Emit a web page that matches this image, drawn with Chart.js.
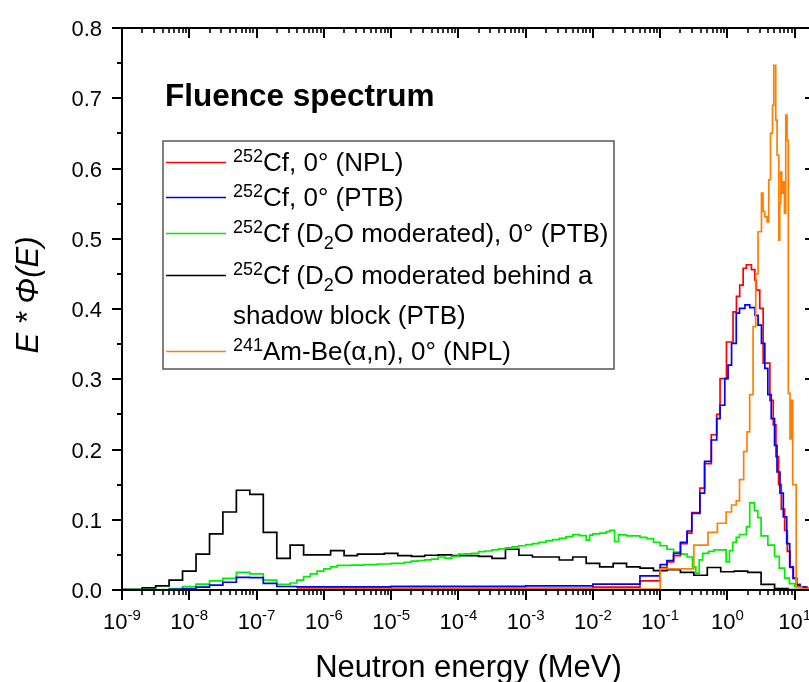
<!DOCTYPE html>
<html>
<head>
<meta charset="utf-8">
<script src="https://cdn.jsdelivr.net/npm/chart.js@4.4.0/dist/chart.umd.min.js"></script>
<style>
  html, body { margin: 0; padding: 0; background: #ffffff; overflow: hidden; }
  #wrap { width: 830px; height: 682px; }
</style>
</head>
<body>
<div id="wrap"><canvas id="spectrum" width="830" height="682"></canvas></div>
<script>
const FONT = '"Liberation Sans", Arial, Helvetica, sans-serif';

// Each histogram: lower bin edges in MeV (last entry closes the final bin) and E*Phi(E) per bin.

// 252Cf, 0 deg (NPL)
const cfNplEnergy = [3.98e-7, 1.0e-2, 5.0e-2, 0.100, 0.126, 0.158, 0.200, 0.251, 0.295, 0.389,
                     0.457, 0.575, 0.692, 0.776, 0.966, 1.21, 1.36, 1.52, 1.71, 1.91,
                     2.27, 2.55, 2.69, 3.02, 3.39, 4.27, 4.79, 5.25, 5.75, 6.31,
                     7.08, 7.76, 8.51, 9.55, 10.7, 12.0, 15.1, 20];
const cfNplValue  = [0.0025, 0.004, 0.013, 0.032, 0.040, 0.049, 0.066, 0.081, 0.110, 0.145,
                     0.180, 0.221, 0.250, 0.301, 0.353, 0.396, 0.418, 0.434, 0.458, 0.463,
                     0.456, 0.441, 0.427, 0.401, 0.323, 0.270, 0.235, 0.190, 0.150, 0.115,
                     0.085, 0.055, 0.032, 0.017, 0.008, 0.004, 0.002, 0];

// 252Cf, 0 deg (PTB)
const cfPtbEnergy = [1e-9, 5.01e-9, 7.94e-9, 1.26e-8, 2.0e-8, 3.16e-8, 5.01e-8, 7.94e-8, 1.26e-7, 2.0e-7,
                     3.98e-7, 1e-5, 1e-3, 1e-2, 5e-2, 0.100, 0.126, 0.158, 0.200, 0.251,
                     0.295, 0.389, 0.457, 0.575, 0.692, 0.776, 0.912, 1.02, 1.15, 1.35,
                     1.51, 1.82, 2.14, 2.57, 2.85, 3.20, 3.59, 3.98, 4.47, 5.01,
                     5.45, 6.03, 6.76, 7.59, 8.41, 9.44, 10.6, 11.9, 15.0, 20];
const cfPtbValue  = [0.0003, 0.001, 0.002, 0.004, 0.007, 0.011, 0.018, 0.0175, 0.0095, 0.005,
                     0.0045, 0.0052, 0.006, 0.0085, 0.020, 0.036, 0.042, 0.052, 0.068, 0.084,
                     0.109, 0.138, 0.183, 0.2135, 0.244, 0.263, 0.301, 0.320, 0.351, 0.394,
                     0.401, 0.406, 0.402, 0.391, 0.377, 0.351, 0.3155, 0.278, 0.244, 0.206,
                     0.168, 0.138, 0.104, 0.066, 0.033, 0.0166, 0.007, 0.004, 0.002, 0];

// 252Cf (D2O moderated), 0 deg (PTB)
const cfD2oEnergy = [1e-9, 5.01e-9, 7.94e-9, 1.26e-8, 2.0e-8, 3.16e-8, 5.01e-8, 7.94e-8, 1.26e-7, 2.0e-7,
                     3.16e-7, 3.98e-7, 5.01e-7, 6.31e-7, 7.94e-7, 1.0e-6, 1.26e-6, 1.58e-6, 2.51e-6, 3.98e-6,
                     6.31e-6, 1.0e-5, 1.58e-5, 2.0e-5, 2.51e-5, 3.16e-5, 3.98e-5, 5.01e-5, 6.31e-5, 7.94e-5,
                     1.0e-4, 1.26e-4, 1.58e-4, 2.0e-4, 2.51e-4, 3.16e-4, 3.98e-4, 5.01e-4, 6.31e-4, 7.94e-4,
                     1.0e-3, 1.26e-3, 1.58e-3, 2.0e-3, 2.51e-3, 3.16e-3, 3.98e-3, 5.01e-3, 6.31e-3, 7.94e-3,
                     8.91e-3, 1.0e-2, 1.26e-2, 1.58e-2, 1.78e-2, 2.1e-2, 2.4e-2, 3.16e-2, 5.01e-2, 6.31e-2,
                     7.94e-2, 0.100, 0.126, 0.158, 0.200, 0.251, 0.302, 0.339, 0.380, 0.427,
                     0.525, 0.631, 0.955, 1.07, 1.20, 1.35, 1.51, 1.91, 2.14, 2.51,
                     2.82, 3.16, 3.98, 5.01, 5.89, 7.08, 8.32, 10.0, 12.6, 15.8,
                     20];
const cfD2oValue  = [0.0005, 0.002, 0.005, 0.0085, 0.013, 0.0166, 0.025, 0.023, 0.014, 0.008,
                     0.010, 0.014, 0.019, 0.023, 0.027, 0.030, 0.033, 0.035, 0.0355, 0.036,
                     0.037, 0.038, 0.0395, 0.041, 0.042, 0.043, 0.044, 0.047, 0.0455, 0.048,
                     0.051, 0.0515, 0.052, 0.0546, 0.0555, 0.057, 0.0585, 0.060, 0.0615, 0.063,
                     0.0645, 0.066, 0.068, 0.070, 0.0718, 0.0735, 0.076, 0.0788, 0.0775, 0.071,
                     0.078, 0.080, 0.081, 0.083, 0.085, 0.069, 0.0785, 0.077, 0.075, 0.073,
                     0.068, 0.063, 0.058, 0.054, 0.051, 0.047, 0.033, 0.024, 0.043, 0.052,
                     0.055, 0.057, 0.040, 0.056, 0.068, 0.075, 0.079, 0.090, 0.124, 0.113,
                     0.103, 0.077, 0.064, 0.048, 0.031, 0.017, 0.009, 0.005, 0.002, 0.001,
                     0];

// 252Cf (D2O moderated) behind a shadow block (PTB)
const cfShadowEnergy = [1e-9, 2.00e-9, 3.16e-9, 5.01e-9, 7.94e-9, 1.26e-8, 2.00e-8, 3.16e-8, 5.01e-8, 7.94e-8,
                        1.26e-7, 2.00e-7, 3.16e-7, 5.01e-7, 7.94e-7, 1.26e-6, 2.00e-6, 3.16e-6, 5.01e-6, 7.94e-6,
                        1.26e-5, 2.00e-5, 3.16e-5, 5.01e-5, 7.94e-5, 1.26e-4, 2.00e-4, 3.16e-4, 5.01e-4, 7.94e-4,
                        1.26e-3, 2.00e-3, 3.16e-3, 5.01e-3, 7.94e-3, 1.26e-2, 2.00e-2, 3.16e-2, 5.01e-2, 7.94e-2,
                        0.126, 0.200, 0.316, 0.501, 0.794, 1.26, 2.00, 3.16, 5.01, 7.94,
                        12.6];
const cfShadowValue  = [0.001, 0.003, 0.006, 0.014, 0.027, 0.051, 0.080, 0.111, 0.142, 0.136,
                        0.082, 0.045, 0.064, 0.050, 0.050, 0.056, 0.049, 0.051, 0.051, 0.052,
                        0.049, 0.048, 0.0495, 0.050, 0.049, 0.049, 0.048, 0.045, 0.058, 0.0495,
                        0.047, 0.047, 0.0427, 0.047, 0.038, 0.033, 0.038, 0.033, 0.031, 0.0275,
                        0.029, 0.025, 0.021, 0.032, 0.026, 0.027, 0.025, 0.008, 0.002, 0.0005,
                        0];

// 241Am-Be(alpha,n), 0 deg (NPL)
const amBeEnergy = [3.98e-7, 0.100, 0.316, 0.513, 0.708, 0.955, 1.15, 1.35, 1.51, 1.74,
                    1.95, 2.14, 2.40, 2.63, 2.85, 3.20, 3.38, 3.58, 3.88, 4.11,
                    4.36, 4.67, 4.88, 5.22, 5.46, 5.79, 5.98, 6.19, 6.41, 6.70,
                    7.03, 7.35, 7.69, 8.02, 8.51, 8.91, 9.33, 10.5, 12.6, 20];
const amBeValue  = [0.0012, 0.030, 0.064, 0.082, 0.095, 0.111, 0.121, 0.127, 0.157, 0.197,
                    0.225, 0.278, 0.375, 0.450, 0.510, 0.565, 0.539, 0.531, 0.524, 0.584,
                    0.650, 0.690, 0.747, 0.669, 0.619, 0.498, 0.550, 0.595, 0.565, 0.581,
                    0.536, 0.676, 0.640, 0.280, 0.215, 0.270, 0.150, 0.004, 0.002, 0];

// Axis ticks
const yTickValues = [0, 0.1, 0.2, 0.3, 0.4, 0.5, 0.6, 0.7, 0.8];
const yTickLabels = ['0.0', '0.1', '0.2', '0.3', '0.4', '0.5', '0.6', '0.7', '0.8'];
const xTickExponents = [-9, -8, -7, -6, -5, -4, -3, -2, -1, 0, 1];

// Legend text: [text, 'sup' | 'sub' | undefined]
const legendCfNpl    = [[['252', 'sup'], ['Cf, 0° (NPL)']]];
const legendCfPtb    = [[['252', 'sup'], ['Cf, 0° (PTB)']]];
const legendCfD2o    = [[['252', 'sup'], ['Cf (D'], ['2', 'sub'], ['O moderated), 0° (PTB)']]];
const legendCfShadow = [[['252', 'sup'], ['Cf (D'], ['2', 'sub'], ['O moderated behind a']],
                        [['shadow block (PTB)']]];
const legendAmBe     = [[['241', 'sup'], ['Am-Be(α,n), 0° (NPL)']]];

const COLORS = { cfNpl: '#ff0000', cfPtb: '#0000ff', cfD2o: '#00ee00', cfShadow: '#000000', amBe: '#ff8000' };

function toPoints(energy, value) {
  return energy.map((e, i) => ({ x: e, y: value[i] }));
}

function drawRich(ctx, x, y, parts, size) {
  let cx = x;
  for (const [text, kind] of parts) {
    const s = kind ? Math.round(size * 0.68) : size;
    const dy = kind === 'sup' ? -size * 0.36 : (kind === 'sub' ? size * 0.28 : 0);
    ctx.font = s + 'px ' + FONT;
    ctx.fillText(text, cx, y + dy);
    cx += ctx.measureText(text).width;
  }
}

const frame = {
  id: 'frame',
  afterDatasetsDraw(chart) {
    const ctx = chart.ctx;
    const { left, right, top, bottom } = chart.chartArea;
    const xs = chart.scales.x, ys = chart.scales.y;
    ctx.save();
    ctx.fillStyle = '#000';
    ctx.strokeStyle = '#000';

    // box
    ctx.lineWidth = 2;
    ctx.strokeRect(left, top, right - left, bottom - top);

    // y ticks: outward on the left, inward on the right
    ctx.lineWidth = 2;
    const line = (x1, y1, x2, y2) => { ctx.beginPath(); ctx.moveTo(x1, y1); ctx.lineTo(x2, y2); ctx.stroke(); };
    for (let i = 0; i < yTickValues.length; i++) {
      const py = Math.round(ys.getPixelForValue(yTickValues[i]));
      line(left - 10, py, left, py);
      line(right, py, right - 10, py);
      if (i < yTickValues.length - 1) {
        const pm = Math.round(ys.getPixelForValue((yTickValues[i] + yTickValues[i + 1]) / 2));
        line(left - 5, pm, left, pm);
        line(right, pm, right - 5, pm);
      }
    }
    ctx.font = '22px ' + FONT;
    ctx.textAlign = 'right';
    ctx.textBaseline = 'alphabetic';
    yTickLabels.forEach((lab, i) => {
      const py = ys.getPixelForValue(yTickValues[i]);
      ctx.fillText(lab, left - 20, py + 8);
    });

    // x ticks: outward at the bottom, inward at the top
    for (const n of xTickExponents) {
      const px = Math.round(xs.getPixelForValue(Math.pow(10, n)));
      line(px, bottom, px, bottom + 10);
      line(px, top, px, top + 10);
      for (let m = 2; m <= 9; m++) {
        const v = m * Math.pow(10, n);
        if (v > xs.max) break;
        const pm = Math.round(xs.getPixelForValue(v));
        ctx.lineWidth = 1.6;
        line(pm, bottom, pm, bottom + 5);
        line(pm, top, pm, top + 5);
        ctx.lineWidth = 2;
      }
    }
    ctx.textAlign = 'left';
    for (const n of xTickExponents) {
      const px = xs.getPixelForValue(Math.pow(10, n));
      const base = '10', exp = String(n);
      ctx.font = '22px ' + FONT;
      const wb = ctx.measureText(base).width;
      ctx.font = '15px ' + FONT;
      const we = ctx.measureText(exp).width;
      const x0 = px - (wb + we) / 2;
      ctx.font = '22px ' + FONT;
      ctx.fillText(base, x0, 629);
      ctx.font = '15px ' + FONT;
      ctx.fillText(exp, x0 + wb, 620);
    }

    // axis titles
    ctx.textAlign = 'center';
    ctx.font = '31px ' + FONT;
    ctx.fillText('Neutron energy (MeV)', (left + right) / 2, 677);
    ctx.save();
    ctx.translate(38, 295);
    ctx.rotate(-Math.PI / 2);
    ctx.font = 'italic 31px ' + FONT;
    ctx.fillText('E * Φ(E)', 0, 0);
    ctx.restore();

    // panel title
    ctx.textAlign = 'left';
    ctx.font = 'bold 31.5px ' + FONT;
    ctx.fillText('Fluence spectrum', 165, 106);

    // legend
    ctx.lineWidth = 1.5;
    ctx.strokeStyle = '#555';
    ctx.strokeRect(163, 141, 451, 228);
    const entries = [
      { color: COLORS.cfNpl, rows: legendCfNpl, base: [171] },
      { color: COLORS.cfPtb, rows: legendCfPtb, base: [206] },
      { color: COLORS.cfD2o, rows: legendCfD2o, base: [242] },
      { color: COLORS.cfShadow, rows: legendCfShadow, base: [284, 324] },
      { color: COLORS.amBe, rows: legendAmBe, base: [360] }
    ];
    for (const e of entries) {
      ctx.strokeStyle = e.color;
      ctx.lineWidth = 1.5;
      const ly = e.base[0] - 8.5;
      line(166, ly, 226, ly);
      ctx.fillStyle = '#000';
      e.rows.forEach((parts, r) => drawRich(ctx, 233, e.base[r], parts, 26));
    }
    ctx.restore();
  }
};

const series = [
  { label: '241Am-Be(α,n), 0° (NPL)', energy: amBeEnergy, value: amBeValue, color: COLORS.amBe, order: 0 },
  { label: '252Cf, 0° (PTB)', energy: cfPtbEnergy, value: cfPtbValue, color: COLORS.cfPtb, order: 1 },
  { label: '252Cf, 0° (NPL)', energy: cfNplEnergy, value: cfNplValue, color: COLORS.cfNpl, order: 2 },
  { label: '252Cf (D2O moderated), 0° (PTB)', energy: cfD2oEnergy, value: cfD2oValue, color: COLORS.cfD2o, order: 3 },
  { label: '252Cf (D2O moderated behind a shadow block (PTB)', energy: cfShadowEnergy, value: cfShadowValue, color: COLORS.cfShadow, order: 4 }
];

new Chart(document.getElementById('spectrum'), {
  type: 'line',
  data: {
    datasets: series.map(s => ({
      label: s.label,
      data: toPoints(s.energy, s.value),
      borderColor: s.color,
      backgroundColor: s.color,
      borderWidth: 1.7,
      stepped: 'before',
      pointRadius: 0,
      fill: false,
      order: s.order
    }))
  },
  options: {
    responsive: false,
    animation: false,
    devicePixelRatio: 1,
    layout: { padding: { left: 0, right: 15, top: 28, bottom: 0 } },
    plugins: { legend: { display: false }, tooltip: { enabled: false }, title: { display: false } },
    scales: {
      x: {
        type: 'logarithmic', min: 1e-9, max: 20,
        grid: { display: false }, border: { display: false }, ticks: { display: false },
        afterFit(scale) { scale.height = 92; }
      },
      y: {
        type: 'linear', min: 0, max: 0.8,
        grid: { display: false }, border: { display: false }, ticks: { display: false },
        afterFit(scale) { scale.width = 122; }
      }
    }
  },
  plugins: [frame]
});
</script>
</body>
</html>
